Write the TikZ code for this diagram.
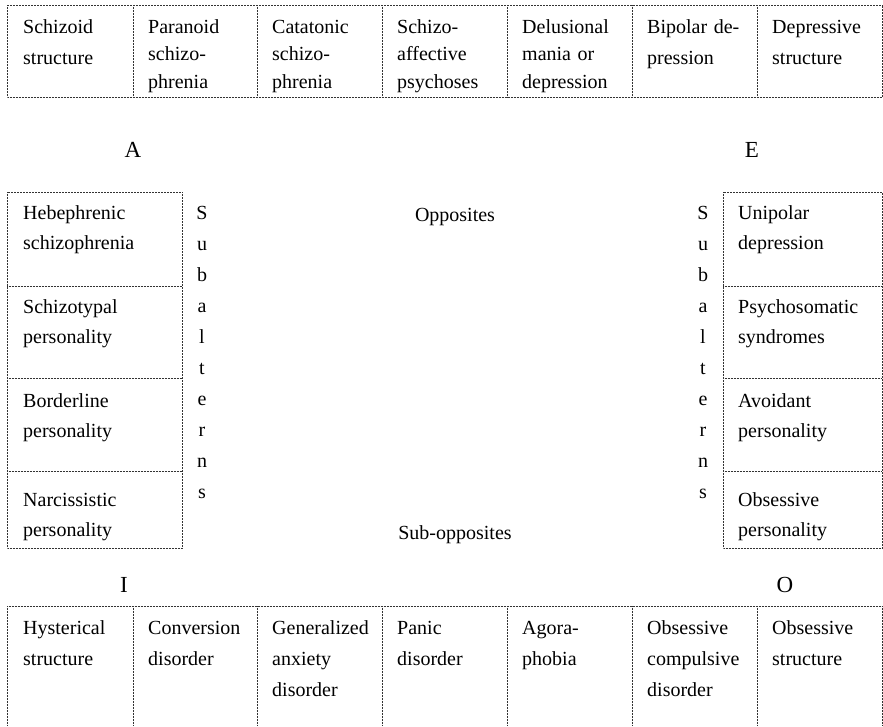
\documentclass[tikz,border=0pt]{standalone}
\usepackage{fontspec}
\setmainfont{Liberation Serif}
\usepackage{tikz}
\usepackage{xcolor}

\tikzset{
  gridline/.style={densely dotted, line width=0.5pt, black!80},
  celltext/.style={anchor=base west, inner sep=0pt, text width=108pt, align=left},
  toptwo/.style={celltext, font=\fontsize{20}{31}\selectfont},
  topthree/.style={celltext, font=\fontsize{20}{27.5}\selectfont},
  siderow/.style={celltext, font=\fontsize{20}{30}\selectfont},
  botrow/.style={celltext, font=\fontsize{20}{31}\selectfont},
  plain/.style={inner sep=0pt, font=\fontsize{20}{24}\selectfont},
  corner/.style={anchor=base, inner sep=0pt, font=\fontsize{23}{26}\selectfont},
}

\begin{document}
\begin{tikzpicture}[x=1pt, y=-1pt]
    \useasboundingbox (0,0) rectangle (883,726);

    % Top row (A to E)
    \draw[gridline] (7,5) rectangle (882,97);
    \draw[gridline] (133,5) -- (133,97) (257,5) -- (257,97) (382,5) -- (382,97)
        (507,5) -- (507,97) (632,5) -- (632,97) (757,5) -- (757,97);
    \node[toptwo] (schizoid) at (23,33) {Schizoid\\structure};
    \node[topthree] (paranoid) at (148,33) {Paranoid\\schizo-\\phrenia};
    \node[topthree] (catatonic) at (272,33) {Catatonic\\schizo-\\phrenia};
    \node[topthree] (affective) at (397,33) {Schizo-\\affective\\psychoses};
    \node[topthree] (delusional) at (522,33) {Delusional\\mania or\\depression};
    \node[toptwo] (bipolar) at (647,33) {Bipolar de-\\pression};
    \node[toptwo] (depressive) at (772,33) {Depressive\\structure};

    % Corner letters
    \node[corner] (cA) at (133,157) {A};
    \node[corner] (cE) at (752,157) {E};
    \node[corner] (cI) at (124,592) {I};
    \node[corner] (cO) at (785,592) {O};

    % Left column (A to I)
    \draw[gridline] (7,192) rectangle (182,548);
    \draw[gridline] (7,286) -- (182,286) (7,378) -- (182,378) (7,471) -- (182,471);
    \node[siderow] (hebephrenic) at (23,219) {Hebephrenic\\schizophrenia};
    \node[siderow] (schizotypal) at (23,313) {Schizotypal\\personality};
    \node[siderow] (borderline) at (23,407) {Borderline\\personality};
    \node[siderow] (narcissistic) at (23,506) {Narcissistic\\personality};

    % Right column (E to O)
    \draw[gridline] (723,192) rectangle (882,548);
    \draw[gridline] (723,286) -- (882,286) (723,378) -- (882,378) (723,471) -- (882,471);
    \node[siderow] (unipolar) at (738,219) {Unipolar\\depression};
    \node[siderow] (psychosomatic) at (738,313) {Psychosomatic\\syndromes};
    \node[siderow] (avoidant) at (738,407) {Avoidant\\personality};
    \node[siderow] (obsessivep) at (738,506) {Obsessive\\personality};

    % Subalterns, written down
    \foreach \l [count=\i from 0] in {S,u,b,a,l,t,e,r,n,s} {
        \node[plain, anchor=base] (subl\i) at (202,{219+31*\i}) {\l};
        \node[plain, anchor=base] (subr\i) at (703,{219+31*\i}) {\l};
    }

    % Middle labels
    \node[plain, anchor=base] (opp) at (455,221) {Opposites};
    \node[plain, anchor=base] (subopp) at (455,539) {Sub-opposites};

    % Bottom row (I to O)
    \draw[gridline] (7,606) -- (882,606);
    \draw[gridline] (7,606) -- (7,726) (133,606) -- (133,726) (257,606) -- (257,726)
        (382,606) -- (382,726) (507,606) -- (507,726) (632,606) -- (632,726)
        (757,606) -- (757,726) (882,606) -- (882,726);
    \node[botrow] (hysterical) at (23,634) {Hysterical\\structure};
    \node[botrow] (conversion) at (148,634) {Conversion\\disorder};
    \node[botrow] (generalized) at (272,634) {Generalized\\anxiety\\disorder};
    \node[botrow] (panic) at (397,634) {Panic\\disorder};
    \node[botrow] (agora) at (522,634) {Agora-\\phobia};
    \node[botrow] (compulsive) at (647,634) {Obsessive\\compulsive\\disorder};
    \node[botrow] (obsessives) at (772,634) {Obsessive\\structure};
\end{tikzpicture}
\end{document}
